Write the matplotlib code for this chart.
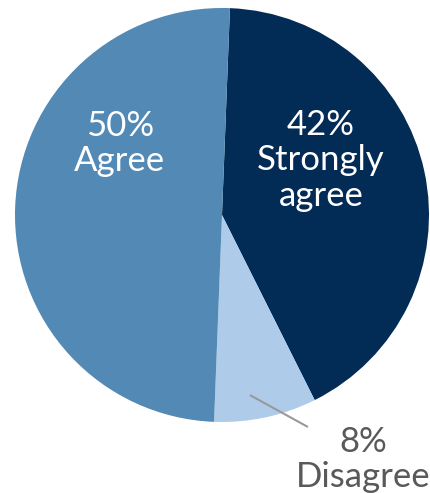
import matplotlib.pyplot as plt

# survey answers
labels = ['Strongly\nagree', 'Disagree', 'Agree']
shares = [42, 8, 50]
colors = ['#022b56', '#aecbea', '#5289b5']

plt.rcParams['font.family'] = ['Lato', 'DejaVu Sans']

fig = plt.figure(figsize=(4.3, 4.93), dpi=100)
# pie box in pixels: x 15..429, y 8..422 (from top)
ax = fig.add_axes([15 / 430, (493 - 422) / 493, 414 / 430, 414 / 493])

wedges, _ = ax.pie(shares, colors=colors, startangle=87.8, counterclock=False,
                   radius=1, wedgeprops=dict(linewidth=0))
ax.set_xlim(-1, 1)
ax.set_ylim(-1, 1)
ax.set_aspect('equal')
ax.axis('off')

# label spots (data units, pie radius = 1)
spots = [(0.478, 0.265), (0.68, -1.18), (-0.493, 0.345)]
txt_colors = ['white', '#595959', 'white']

for lab, val, (x, y), c in zip(labels, shares, spots, txt_colors):
    ax.text(x, y, f'{val}%\n{lab}', ha='center', va='center', color=c,
            fontsize=25, fontweight='normal', linespacing=1.13, clip_on=False)

# leader line for the small slice
ax.plot([0.135, 0.415], [-0.870, -1.024], color='#999999', lw=1.5,
        clip_on=False, solid_capstyle='butt')

fig.savefig('out.png', dpi=100)
